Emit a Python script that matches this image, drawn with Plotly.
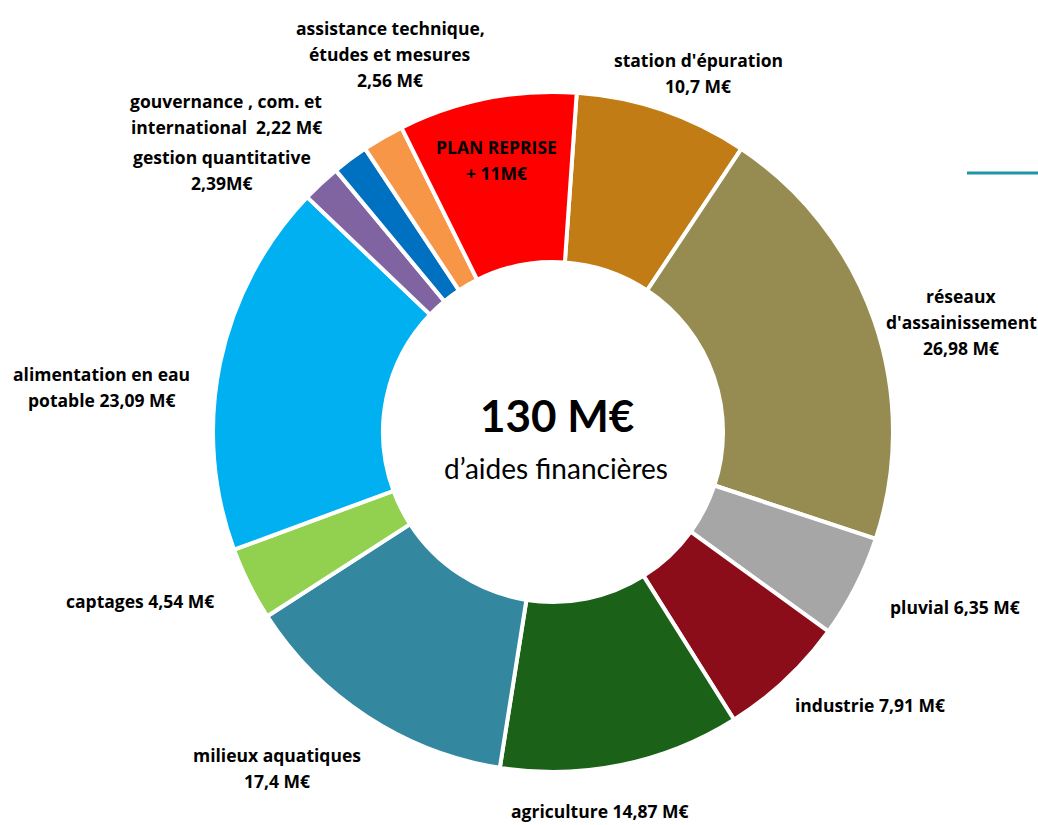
import plotly.graph_objects as go

categories = ["station d'épuration", "réseaux d'assainissement", "pluvial", "industrie",
              "agriculture", "milieux aquatiques", "captages", "alimentation en eau potable",
              "gestion quantitative", "gouvernance, com. et international",
              "assistance technique, études et mesures", "PLAN REPRISE"]
values = [10.7, 26.98, 6.35, 7.91, 14.87, 17.4, 4.54, 23.09, 2.39, 2.22, 2.56, 11.0]
colors = ["#C27C16", "#968C52", "#A6A6A6", "#8C0D1A", "#1B6117", "#33879E",
          "#92D050", "#00B0F0", "#8064A2", "#0070C0", "#F79646", "#FF0000"]
label_lines = [
    ["station d'épuration", "10,7 M€"],
    ["réseaux", "d'assainissement", "26,98 M€"],
    ["pluvial 6,35 M€"],
    ["industrie 7,91 M€"],
    ["agriculture 14,87 M€"],
    ["milieux aquatiques", "17,4 M€"],
    ["captages 4,54 M€"],
    ["alimentation en eau", "potable 23,09 M€"],
    ["gestion quantitative", "2,39M€"],
    ["gouvernance , com. et", "international  2,22 M€"],
    ["assistance technique,", "études et mesures", "2,56 M€"],
    ["PLAN REPRISE", "+ 11M€"],
]
# label anchor (pixel centre x, first line y) in page pixels
label_pos = [(698, 60), (961, 296), (955, 607), (870, 705), (600, 811), (277, 755),
             (140, 601), (101, 374), (222, 157), (226, 101), (390, 28), (496, 147)]
total_text = "130 M€"
subtitle = "d’aides financières"

W, H = 1038, 825
cx, cy, R = 553, 432, 340

fig = go.Figure(go.Pie(
    labels=categories, values=values, sort=False, direction="clockwise", rotation=4,
    hole=0.5, marker=dict(colors=colors, line=dict(color="white", width=4)),
    textinfo="none", hoverinfo="label+value", showlegend=False,
    domain=dict(x=[(cx - R) / W, (cx + R) / W], y=[(H - cy - R) / H, (H - cy + R) / H]),
))

lab_font = "'Open Sans', Lato, sans-serif"
ctr_font = "Lato, 'Open Sans', sans-serif"
anns = []
for lines, (px, py) in zip(label_lines, label_pos):
    for i, ln in enumerate(lines):
        anns.append(dict(x=px / W, y=1 - (py + 26 * i) / H, xref="paper", yref="paper",
                         text=ln, showarrow=False, xanchor="center", yanchor="middle",
                         font=dict(family=lab_font, size=17.5, color="black", weight="bold")))
anns.append(dict(x=557 / W, y=1 - 415 / H, xref="paper", yref="paper", text=total_text,
                 showarrow=False, font=dict(family=ctr_font, size=44, color="black", weight="bold")))
anns.append(dict(x=556 / W, y=1 - 468 / H, xref="paper", yref="paper", text=subtitle,
                 showarrow=False, font=dict(family=ctr_font, size=28, color="black")))

fig.update_layout(
    width=W, height=H, margin=dict(l=0, r=0, t=0, b=0),
    paper_bgcolor="white", plot_bgcolor="white", annotations=anns,
    shapes=[dict(type="line", xref="paper", yref="paper", x0=967 / W, x1=1,
                 y0=1 - 173 / H, y1=1 - 173 / H,
                 line=dict(color="#1F95AA", width=3))],
)
fig.write_html("out.html", config={"displayModeBar": False},
               post_script="document.body.style.margin='0px';document.body.style.overflow='hidden';")
